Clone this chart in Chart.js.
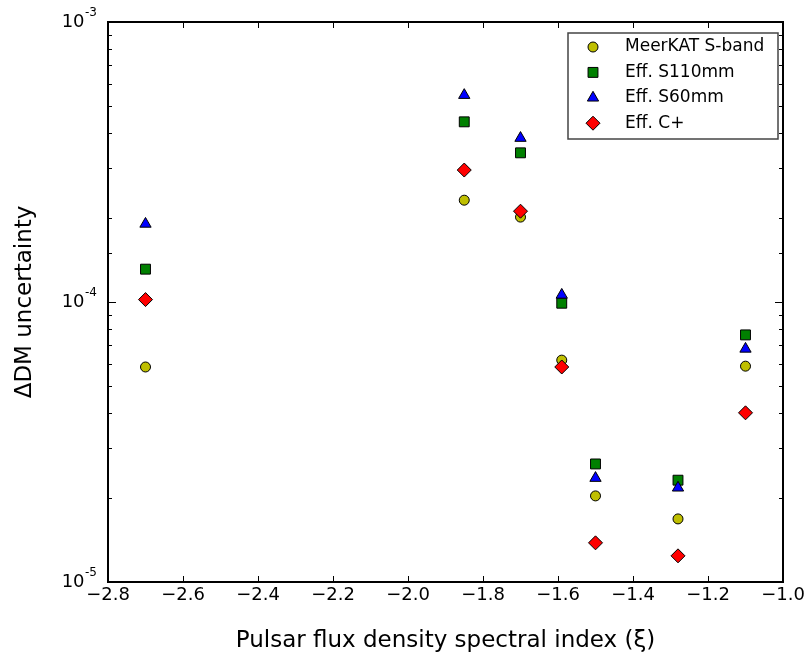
<!doctype html>
<html lang="en">
  <head>
    <meta charset="utf-8">
    <title>DM uncertainty vs spectral index</title>
    <style>
      * {
        margin: 0;
        padding: 0;
      }
      body {
        background: white;
      }
      .chartBox {
        width: 811px;
        height: 658px;
      }
    </style>
  </head>
  <body>
    <div class="chartBox">
      <canvas id="myChart"></canvas>
    </div>
    <script src="https://cdn.jsdelivr.net/npm/chart.js"></script>
    <script>
    // spectral index of each pulsar (x)
    const spectralIndex = [-2.7, -1.85, -1.7, -1.59, -1.5, -1.28, -1.1];

    // DM uncertainty for each receiver
    const meerkatSband = [5.86e-5, 2.31e-4, 2.01e-4, 6.2e-5, 2.03e-5, 1.68e-5, 5.9e-5];
    const effS110mm    = [1.31e-4, 4.4e-4, 3.41e-4, 9.9e-5, 2.64e-5, 2.31e-5, 7.63e-5];
    const effS60mm     = [1.9e-4, 5.48e-4, 3.85e-4, 1.06e-4, 2.35e-5, 2.17e-5, 6.8e-5];
    const effCplus     = [1.02e-4, 2.96e-4, 2.11e-4, 5.86e-5, 1.38e-5, 1.24e-5, 4.02e-5];

    const seriesNames = ['MeerKAT S-band', 'Eff. S110mm', 'Eff. S60mm', 'Eff. C+'];
    const xTicks = [-2.8, -2.6, -2.4, -2.2, -2.0, -1.8, -1.6, -1.4, -1.2, -1.0];
    const yTicks = [1e-5, 1e-4, 1e-3];

    const toPoints = vals => vals.map((v, i) => ({ x: spectralIndex[i], y: v }));

    const markers = [
      { pointStyle: 'circle', pointRadius: 5, color: '#bfbf00' },
      { pointStyle: 'rect', pointRadius: 7, color: '#008000' },
      { pointStyle: 'triangle', pointRadius: 6.5, color: '#0000ff' },
      { pointStyle: 'rectRot', pointRadius: 7, color: '#ff0000' }
    ];

    const allSeries = [meerkatSband, effS110mm, effS60mm, effCplus];

    const data = {
      datasets: allSeries.map((vals, k) => ({
        label: seriesNames[k],
        data: toPoints(vals),
        pointStyle: markers[k].pointStyle,
        pointRadius: markers[k].pointRadius,
        pointBackgroundColor: markers[k].color,
        pointBorderColor: '#000000',
        pointBorderWidth: 1,
        showLine: false,
        order: 4 - k
      }))
    };

    const isMajorLog = v => Math.abs(Math.log10(v) - Math.round(Math.log10(v))) < 1e-6;

    // inward ticks on all four sides, y labels as 10^n, frame, boxed legend
    const framePlugin = {
      id: 'frame',
      afterDraw(chart) {
        const ctx = chart.ctx;
        const a = chart.chartArea;
        const xs = chart.scales.x;
        const ys = chart.scales.y;
        ctx.save();
        ctx.strokeStyle = '#000';
        ctx.lineWidth = 1;
        ctx.beginPath();
        xs.ticks.forEach(t => {
          const px = Math.round(xs.getPixelForValue(t.value)) + 0.5;
          ctx.moveTo(px, a.bottom); ctx.lineTo(px, a.bottom - 6);
          ctx.moveTo(px, a.top); ctx.lineTo(px, a.top + 6);
        });
        ys.ticks.forEach(t => {
          const py = Math.round(ys.getPixelForValue(t.value)) + 0.5;
          const len = isMajorLog(t.value) ? 8 : 4;
          ctx.moveTo(a.left, py); ctx.lineTo(a.left + len, py);
          ctx.moveTo(a.right, py); ctx.lineTo(a.right - len, py);
        });
        ctx.stroke();
        ctx.lineWidth = 2;
        ctx.strokeRect(a.left, a.top, a.right - a.left, a.bottom - a.top);

        // y tick labels: "10" with a raised exponent
        ctx.fillStyle = '#000';
        ctx.textBaseline = 'middle';
        ctx.textAlign = 'right';
        yTicks.forEach(v => {
          const py = ys.getPixelForValue(v);
          const exp = String(Math.round(Math.log10(v)));
          ctx.font = '12px "DejaVu Sans"';
          const w = ctx.measureText(exp).width;
          ctx.fillText(exp, a.left - 11, py - 9);
          ctx.font = '18px "DejaVu Sans"';
          ctx.fillText('10', a.left - 11 - w - 0.5, py);
        });

        // legend
        const lx = 568, ly = 33, lw = 210, lh = 106;
        ctx.fillStyle = '#fff';
        ctx.fillRect(lx, ly, lw, lh);
        ctx.lineWidth = 1.5;
        ctx.strokeStyle = '#444';
        ctx.strokeRect(lx, ly, lw, lh);
        ctx.font = '17px "DejaVu Sans"';
        ctx.textBaseline = 'middle';
        ctx.textAlign = 'left';
        seriesNames.forEach((name, k) => {
          const cy = 47 + k * 25.4;
          ctx.fillStyle = markers[k].color;
          ctx.strokeStyle = '#000';
          ctx.lineWidth = 1;
          Chart.helpers.drawPoint(ctx, {
            pointStyle: markers[k].pointStyle,
            radius: markers[k].pointRadius,
            rotation: 0,
            borderWidth: 1
          }, 593, cy);
          ctx.fillStyle = '#000';
          ctx.fillText(name, 625, cy);
        });
        ctx.restore();
      }
    };

    const config = {
      type: 'scatter',
      data,
      options: {
        animation: false,
        responsive: true,
        maintainAspectRatio: false,
        layout: {
          padding: { left: 0, right: 28, top: 22, bottom: 0 }
        },
        plugins: {
          legend: { display: false },
          tooltip: { enabled: false }
        },
        scales: {
          x: {
            type: 'linear',
            min: -2.8,
            max: -1.0,
            afterBuildTicks: scale => { scale.ticks = xTicks.map(v => ({ value: v })); },
            afterFit: scale => { scale.height = 76; },
            grid: { display: false, drawTicks: false },
            border: { display: false },
            ticks: {
              color: '#000',
              font: { size: 18 },
              padding: 3,
              maxRotation: 0,
              autoSkip: false,
              callback: v => v.toFixed(1).replace('-', '\u2212')
            },
            title: {
              display: true,
              text: 'Pulsar flux density spectral index (\u03BE)',
              color: '#000',
              font: { size: 23 },
              padding: { top: 0, bottom: 3 }
            }
          },
          y: {
            type: 'logarithmic',
            min: yTicks[0],
            max: yTicks[yTicks.length - 1],
            afterFit: scale => { scale.width = 108; },
            grid: { display: false, drawTicks: false },
            border: { display: false },
            ticks: {
              autoSkip: false,
              callback: () => ''
            },
            title: {
              display: true,
              text: '\u0394DM uncertainty',
              color: '#000',
              font: { size: 23 },
              padding: { top: 11, bottom: 0 }
            }
          }
        }
      },
      plugins: [framePlugin]
    };

    Chart.defaults.font.family = '"DejaVu Sans", sans-serif';

    const myChart = new Chart(
      document.getElementById('myChart'),
      config
    );
    </script>
  </body>
</html>
